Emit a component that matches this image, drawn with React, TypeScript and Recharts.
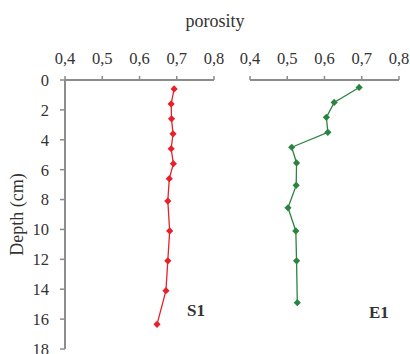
import React from "react";
import { ScatterChart, Scatter, XAxis, YAxis } from "recharts";

const depthS1 = [0.6, 1.6, 2.6, 3.6, 4.6, 5.6, 6.6, 8.1, 10.1, 12.1, 14.1, 16.35];
const porosityS1 = [0.693, 0.685, 0.686, 0.69, 0.685, 0.691, 0.68, 0.676, 0.681, 0.676, 0.671, 0.647];
const depthE1 = [0.5, 1.5, 2.5, 3.5, 4.5, 5.55, 7.05, 8.55, 10.1, 12.1, 14.9];
const porosityE1 = [0.693, 0.626, 0.605, 0.609, 0.512, 0.525, 0.524, 0.502, 0.523, 0.525, 0.527];
const xTicks = [0.4, 0.5, 0.6, 0.7, 0.8];
const yTicks = [0, 2, 4, 6, 8, 10, 12, 14, 16, 18];
const seriesNames = ["S1", "E1"];
const axisTitleX = "porosity";
const axisTitleY = "Depth (cm)";

const s1Data = depthS1.map((d, i) => ({ depth: d, porosity: porosityS1[i] }));
const e1Data = depthE1.map((d, i) => ({ depth: d, porosity: porosityE1[i] }));

const FONT = "'Liberation Serif', serif";
const AXIS = "#8c8c8c";
const TEXT = "#333333";
const RED = "#e8202a";
const GREEN = "#2a8440";

const fmt = (v: number) => v.toFixed(1).replace(".", ",");

const makeDiamond = (color: string) => (props: any) => {
  const { cx, cy } = props;
  const r = 3.6;
  return (
    <polygon
      points={`${cx},${cy - r} ${cx + r},${cy} ${cx},${cy + r} ${cx - r},${cy}`}
      fill={color}
    />
  );
};

const tickStyle = { fill: TEXT, fontSize: 16.5, fontFamily: FONT };

const YLabel = (props: any) => {
  const vb = props.viewBox || {};
  const x = vb.x - 8;
  const y = vb.y + vb.height / 2;
  return (
    <text
      x={x}
      y={y}
      transform={`rotate(-90, ${x}, ${y})`}
      textAnchor="middle"
      dominantBaseline="central"
      fill={TEXT}
      fontSize={18}
      fontFamily={FONT}
    >
      {axisTitleY}
    </text>
  );
};

export default function App() {
  return (
    <div style={{ position: "absolute", left: 0, top: 0, width: 410, height: 354, background: "#fff", overflow: "hidden" }}>
      <div
        style={{
          position: "absolute",
          left: 150,
          width: 130,
          top: 11,
          textAlign: "center",
          fontFamily: FONT,
          fontSize: 18,
          lineHeight: "20px",
          color: TEXT,
        }}
      >
        {axisTitleX}
      </div>
      <div style={{ position: "absolute", left: 0, top: 0 }}>
        <ScatterChart width={230} height={354} margin={{ top: 50, right: 16, bottom: 5, left: 25 }}>
          <XAxis
            type="number"
            dataKey="porosity"
            orientation="top"
            domain={[0.4, 0.8]}
            ticks={xTicks}
            interval={0}
            tickFormatter={fmt}
            height={30}
            tick={tickStyle}
            tickSize={4}
            tickMargin={12}
            axisLine={{ stroke: AXIS, strokeWidth: 2 }}
            tickLine={{ stroke: AXIS, strokeWidth: 1.5 }}
            allowDataOverflow
          />
          <YAxis
            type="number"
            dataKey="depth"
            reversed
            domain={[0, 18]}
            ticks={yTicks}
            interval={0}
            width={40}
            tick={tickStyle}
            tickSize={5}
            tickMargin={11}
            axisLine={{ stroke: AXIS, strokeWidth: 2 }}
            tickLine={{ stroke: AXIS, strokeWidth: 1.5 }}
            label={<YLabel />}
            allowDataOverflow
          />
          <Scatter
            name={seriesNames[0]}
            data={s1Data}
            line={{ stroke: RED, strokeWidth: 1.3 }}
            shape={makeDiamond(RED)}
            isAnimationActive={false}
          />
        </ScatterChart>
      </div>
      <div style={{ position: "absolute", left: 0, top: 0 }}>
        <ScatterChart width={410} height={354} margin={{ top: 50, right: 11, bottom: 5, left: 250 }}>
          <XAxis
            type="number"
            dataKey="porosity"
            orientation="top"
            domain={[0.4, 0.8]}
            ticks={xTicks}
            interval={0}
            tickFormatter={fmt}
            height={30}
            tick={tickStyle}
            tickSize={4}
            tickMargin={12}
            axisLine={{ stroke: AXIS, strokeWidth: 2 }}
            tickLine={{ stroke: AXIS, strokeWidth: 1.5 }}
            allowDataOverflow
          />
          <YAxis type="number" dataKey="depth" reversed domain={[0, 18]} hide width={0} allowDataOverflow />
          <Scatter
            name={seriesNames[1]}
            data={e1Data}
            line={{ stroke: GREEN, strokeWidth: 1.3 }}
            shape={makeDiamond(GREEN)}
            isAnimationActive={false}
          />
        </ScatterChart>
      </div>
      <div style={{ position: "absolute", left: 187, top: 301, fontFamily: FONT, fontWeight: "bold", fontSize: 17, lineHeight: "20px", color: TEXT }}>
        {seriesNames[0]}
      </div>
      <div style={{ position: "absolute", left: 369, top: 303, fontFamily: FONT, fontWeight: "bold", fontSize: 17, lineHeight: "20px", color: TEXT }}>
        {seriesNames[1]}
      </div>
    </div>
  );
}
